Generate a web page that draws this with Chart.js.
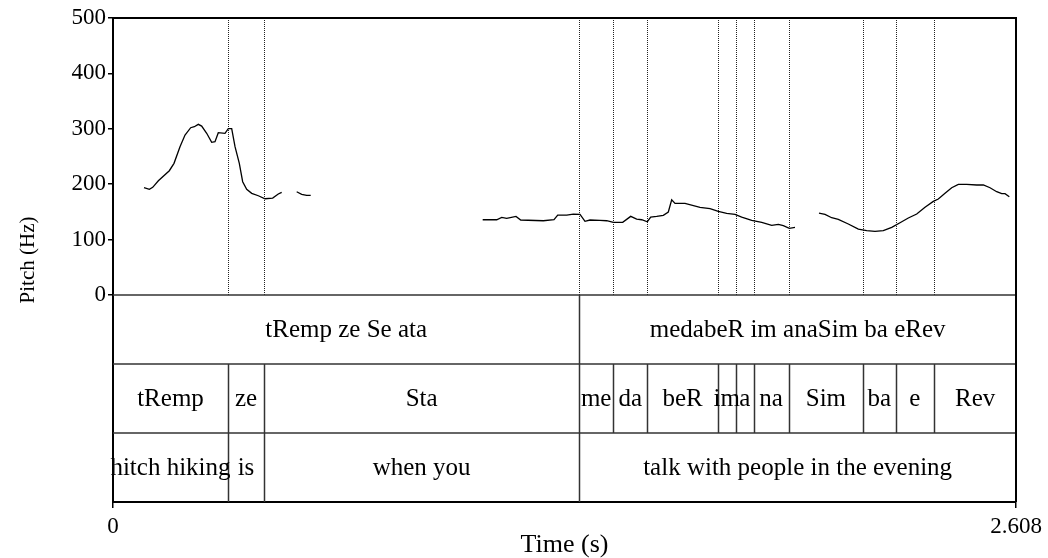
<!DOCTYPE html>
<html>
<head>
<meta charset="utf-8">
<script src="https://cdn.jsdelivr.net/npm/chart.js@4.4.1/dist/chart.umd.min.js"></script>
<style>
  html, body { margin: 0; padding: 0; background: #ffffff; }
  #wrap { width: 1048px; height: 558px; }
</style>
</head>
<body>
<div id="wrap"><canvas id="pitch" width="1048" height="558"></canvas></div>
<script>
// Pitch contour (time in s, F0 in Hz); null marks unvoiced stretches
const pitchTime = [
  0.0895, 0.105, 0.1147, 0.131, 0.1627, 0.1762, 0.1935, 0.208, 0.2244, 0.2349,
  0.2464, 0.2561, 0.2706, 0.285, 0.2946, 0.3041, 0.3235, 0.333, 0.3428, 0.3524,
  0.3648, 0.3745, 0.3861, 0.4006, 0.4197, 0.439, 0.4612, 0.4774, 0.4872,
  0.51,
  0.5305, 0.545, 0.5594, 0.571,
  0.80,
  1.0677, 1.1082, 1.1227, 1.137, 1.164, 1.1775, 1.2428, 1.2737, 1.2844, 1.3104,
  1.3294, 1.3488, 1.3632, 1.3776, 1.4065, 1.4259, 1.4451, 1.4721, 1.4952, 1.5125,
  1.527, 1.5432, 1.553, 1.5703, 1.5894, 1.6038, 1.6136, 1.6232, 1.652, 1.6954,
  1.7243, 1.7482, 1.7724, 1.7965, 1.8158, 1.8447, 1.8736, 1.9024, 1.9216, 1.936,
  1.9533, 1.9697,
  2.00,
  2.039, 2.0564, 2.0757, 2.0948, 2.1237, 2.1526, 2.1768, 2.2008, 2.2248, 2.2491,
  2.273, 2.297, 2.3213, 2.3452, 2.3692, 2.3836, 2.403, 2.4223, 2.4414, 2.4656,
  2.4945, 2.5137, 2.533, 2.5523, 2.5668, 2.5763, 2.5887
];
const pitchHz = [
  193.7, 190.7, 194.4, 206.3, 224.4, 237.7, 267.7, 288.8, 302, 303.8,
  308.1, 305, 291.9, 275.6, 276.7, 293, 291.9, 300.2, 300.2, 267.7,
  237.7, 204.5, 190.8, 183.6, 179.2, 173.8, 175.1, 182.3, 185.4,
  null,
  186.5, 181.8, 180, 180,
  null,
  135.9, 135.9, 140.2, 138.4, 142, 135.4, 134.1, 135.9, 144.4, 144.4,
  146.2, 145.7, 133, 135.4, 134.8, 134.1, 131.2, 131.2, 142, 137.2,
  135.9, 132.3, 140.8, 142, 143.9, 149.8, 172, 165.5, 165.5, 158.3,
  155.8, 151.1, 147.5, 145.7, 140.8, 134.8, 131.2, 125.8, 127.6, 125.1,
  120.4, 122.2,
  null,
  148, 145.7, 139.5, 136.6, 128.2, 119.1, 116.1, 115, 116.1, 122.2,
  130.5, 139, 146.2, 158.3, 169.1, 173.3, 183.6, 193.7, 199.8, 199.8,
  198.6, 198.6, 193.7, 186.5, 182.9, 182.9, 177.4
];

// Axis extents and tick values
const timeMax = 2.608;
const timeTicks = [0, 2.608];
const pitchTicks = [0, 100, 200, 300, 400, 500];
const pitchMax = 500;

// Annotation tiers: interval boundaries (s) and interval texts
const tier1Bounds = [0, 1.3467, 2.608];
const tier1Labels = ['tRemp ze Se ata', 'medabeR im anaSim ba eRev'];

const tier2Bounds = [0, 0.3321, 0.4361, 1.3467, 1.4441, 1.5437, 1.7465, 1.7985,
                     1.8505, 1.9510, 2.1670, 2.2600, 2.3718, 2.608];
const tier2Labels = ['tRemp', 'ze', 'Sta', 'me', 'da', 'beR', 'im', 'a', 'na',
                     'Sim', 'ba', 'e', 'Rev'];

const tier3Bounds = [0, 0.3321, 0.4361, 1.3467, 2.608];
const tier3Labels = ['hitch hiking', 'is', 'when you', 'talk with people in the evening'];

// Each tier row takes this many "Hz" of vertical room below the pitch panel
const tierSpan = 124.5;
const tiers = [
  { bounds: tier1Bounds, labels: tier1Labels },
  { bounds: tier2Bounds, labels: tier2Labels },
  { bounds: tier3Bounds, labels: tier3Labels }
];

const SERIF = '"Liberation Serif", "Times New Roman", serif';
Chart.defaults.font.family = SERIF;
Chart.defaults.color = '#000';

const whiteBg = {
  id: 'whiteBg',
  beforeDraw(chart) {
    const { ctx } = chart;
    ctx.save();
    ctx.fillStyle = '#ffffff';
    ctx.fillRect(0, 0, chart.width, chart.height);
    ctx.restore();
  }
};

// Draws the boundary markers in the pitch panel and the text grid below it
const textGrid = {
  id: 'textGrid',
  beforeDatasetsDraw(chart) {
    const { ctx, scales: { x, y } } = chart;
    const yTop = y.getPixelForValue(pitchMax);
    const yZero = y.getPixelForValue(0);
    ctx.save();

    // dotted boundary markers across the pitch panel
    ctx.strokeStyle = '#222';
    ctx.lineWidth = 1;
    ctx.setLineDash([1, 1]);
    tier2Bounds.slice(1, -1).forEach(t => {
      const px = Math.round(x.getPixelForValue(t)) + 0.5;
      ctx.beginPath();
      ctx.moveTo(px, yTop);
      ctx.lineTo(px, yZero);
      ctx.stroke();
    });
    ctx.setLineDash([]);

    // tiers
    tiers.forEach((tier, i) => {
      const top = y.getPixelForValue(-i * tierSpan);
      const bottom = y.getPixelForValue(-(i + 1) * tierSpan);
      ctx.strokeStyle = '#333';
      ctx.lineWidth = 1.5;
      tier.bounds.slice(1, -1).forEach(t => {
        const px = Math.round(x.getPixelForValue(t)) + 0.5;
        ctx.beginPath();
        ctx.moveTo(px, top);
        ctx.lineTo(px, bottom);
        ctx.stroke();
      });
      ctx.fillStyle = '#000';
      ctx.font = '25px ' + SERIF;
      ctx.textAlign = 'center';
      ctx.textBaseline = 'middle';
      tier.labels.forEach((label, k) => {
        const cx = (x.getPixelForValue(tier.bounds[k]) + x.getPixelForValue(tier.bounds[k + 1])) / 2;
        ctx.fillText(label, cx, (top + bottom) / 2 + 1);
      });
    });
    ctx.restore();
  },
  afterDraw(chart) {
    const { ctx, scales: { x, y } } = chart;
    const left = x.getPixelForValue(0);
    const right = x.getPixelForValue(timeMax);
    const top = y.getPixelForValue(pitchMax);
    const bottom = y.getPixelForValue(-3 * tierSpan);
    ctx.save();
    // horizontal tier separators
    ctx.strokeStyle = '#333';
    ctx.lineWidth = 1.5;
    for (let i = 0; i < 3; i++) {
      const py = y.getPixelForValue(-i * tierSpan);
      ctx.beginPath();
      ctx.moveTo(left, py);
      ctx.lineTo(right, py);
      ctx.stroke();
    }
    // top and right edges of the frame
    ctx.strokeStyle = '#000';
    ctx.lineWidth = 2;
    ctx.beginPath();
    ctx.moveTo(left - 1, top);
    ctx.lineTo(right, top);
    ctx.lineTo(right, bottom);
    ctx.stroke();
    ctx.restore();
  }
};

new Chart(document.getElementById('pitch'), {
  type: 'line',
  data: {
    datasets: [{
      label: 'Pitch',
      data: pitchTime.map((t, i) => ({ x: t, y: pitchHz[i] })),
      borderColor: '#000',
      borderWidth: 1.3,
      pointRadius: 0,
      tension: 0,
      spanGaps: false,
      fill: false
    }]
  },
  options: {
    responsive: false,
    animation: false,
    events: [],
    layout: { padding: { top: 18, right: 32, bottom: 0, left: 0 } },
    plugins: { legend: { display: false }, tooltip: { enabled: false } },
    scales: {
      x: {
        type: 'linear',
        position: 'bottom',
        min: 0,
        max: timeMax,
        afterBuildTicks(scale) { scale.ticks = timeTicks.map(v => ({ value: v })); },
        afterFit(scale) { scale.height = 56; },
        ticks: {
          font: { size: 23, family: SERIF },
          color: '#000',
          padding: 5,
          maxRotation: 0,
          autoSkip: false,
          callback: v => (v === 0 ? '0' : v.toFixed(3))
        },
        grid: { drawOnChartArea: false, drawTicks: true, tickLength: 6, color: '#000', lineWidth: 1.5 },
        border: { display: true, color: '#000', width: 2 },
        title: {
          display: true,
          text: 'Time (s)',
          font: { size: 26, family: SERIF, lineHeight: 1 },
          color: '#000',
          padding: { top: 0, bottom: 0 }
        }
      },
      y: {
        type: 'linear',
        position: 'left',
        min: -3 * tierSpan,
        max: pitchMax,
        afterBuildTicks(scale) { scale.ticks = pitchTicks.map(v => ({ value: v })); },
        afterFit(scale) { scale.width = 113; },
        ticks: {
          font: { size: 23, family: SERIF },
          color: '#000',
          padding: 2,
          autoSkip: false
        },
        grid: { drawOnChartArea: false, drawTicks: true, tickLength: 5, color: '#000', lineWidth: 1.5 },
        border: { display: true, color: '#000', width: 2 },
        title: {
          display: true,
          text: 'Pitch (Hz)',
          font: { size: 21, family: SERIF },
          color: '#000',
          padding: { top: 16, bottom: 0 }
        }
      }
    }
  },
  plugins: [whiteBg, textGrid]
});
</script>
</body>
</html>
